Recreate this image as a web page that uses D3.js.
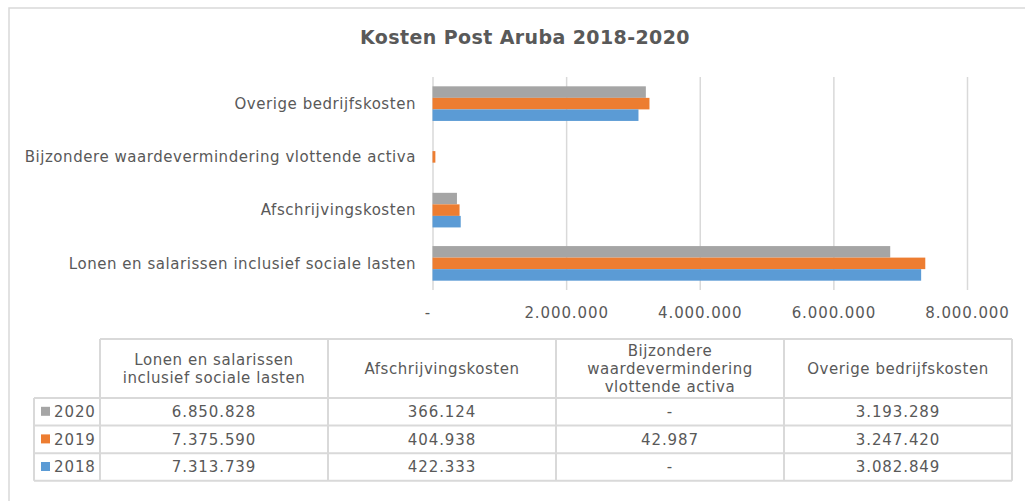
<!DOCTYPE html>
<html><head><meta charset="utf-8">
<script src="https://cdn.jsdelivr.net/npm/d3@7"></script>
<style>
html,body{margin:0;padding:0;background:#fff;}
svg text{font-family:"DejaVu Sans",Verdana,sans-serif;fill:#595959;}
.lbl{font-size:15px;letter-spacing:0.55px;}
.num{font-size:15px;letter-spacing:0.9px;}
</style></head>
<body><svg id="c" width="1025" height="501"></svg>
<script>
const title = "Kosten Post Aruba 2018-2020";
const categories = ["Lonen en salarissen inclusief sociale lasten","Afschrijvingskosten","Bijzondere waardevermindering vlottende activa","Overige bedrijfskosten"];
const headerLines = [["Lonen en salarissen","inclusief sociale lasten"],["Afschrijvingskosten"],["Bijzondere","waardevermindering","vlottende activa"],["Overige bedrijfskosten"]];
const years = ["2020","2019","2018"];
const values2020 = [6850828, 366124, 0, 3193289];
const values2019 = [7375590, 404938, 42987, 3247420];
const values2018 = [7313739, 422333, 0, 3082849];
const xTicks = [0, 2000000, 4000000, 6000000, 8000000];
const colors = {"2020":"#A5A5A5","2019":"#ED7D31","2018":"#5B9BD5"};
const seriesByYear = {"2020":values2020,"2019":values2019,"2018":values2018};

const loc = d3.formatLocale({decimal:",",thousands:".",grouping:[3],currency:["",""]});
const fmt = v => v === 0 ? "-" : loc.format(",.0f")(v);

const svg = d3.select("#c");
const grid = "#D9D9D9";

// outer frame
svg.append("rect").attr("x",9).attr("y",8).attr("width",1030).attr("height",510)
  .attr("fill","none").attr("stroke",grid).attr("stroke-width",1.5);

svg.append("text").attr("x",525).attr("y",44).attr("text-anchor","middle")
  .style("font-size","19px").style("font-weight","bold").style("letter-spacing","0.4px").text(title);

const x = d3.scaleLinear().domain([0,8000000]).range([432.5,967]);
const y = d3.scaleBand().domain([...categories].reverse()).range([77,290]).paddingInner(0.35).paddingOuter(0.175);
const ySub = d3.scaleBand().domain(years).range([0,y.bandwidth()]);

// gridlines + tick labels
const gAxis = svg.append("g").attr("transform","translate(0,290)")
  .call(d3.axisBottom(x).tickValues(xTicks).tickSize(-213).tickFormat(fmt));
gAxis.select(".domain").remove();
gAxis.selectAll(".tick line").attr("stroke",grid).attr("stroke-width",1.5);
gAxis.selectAll(".tick text").attr("dy",0).attr("y",28).attr("class","num").attr("fill","#595959")
  .attr("dx",d=>d===0?-5:0);

// bars
const groups = svg.append("g").selectAll("g").data(categories).join("g")
  .attr("transform",d=>`translate(0,${y(d)})`);
groups.selectAll("rect").data((d,i)=>years.map(yr=>({yr,v:seriesByYear[yr][i]}))).join("rect")
  .attr("x",x(0)).attr("y",d=>ySub(d.yr)).attr("height",ySub.bandwidth())
  .attr("width",d=>x(d.v)-x(0)).attr("fill",d=>colors[d.yr]);

// y labels
svg.append("g").selectAll("text").data(categories).join("text")
  .attr("class","lbl")
  .attr("x",416).attr("y",d=>y(d)+y.bandwidth()/2).attr("dy","0.35em").attr("text-anchor","end")
  .text(d=>d);

// data table
const colX = d3.scaleBand().domain(categories).range([100,1012]);
const rowTop = 398, rowH = 27.6, headTop = 339;
const rowY = d3.scaleBand().domain(years).range([rowTop, rowTop + rowH*3]);
const t = svg.append("g");
const line = (x1,y1,x2,y2)=>t.append("line").attr("x1",x1).attr("y1",y1).attr("x2",x2).attr("y2",y2)
  .attr("stroke",grid).attr("stroke-width",2);
const tableRight = colX.range()[1], tableBottom = rowY.range()[1];
line(100,headTop,tableRight,headTop);
line(34,rowTop,tableRight,rowTop);
years.forEach(yr=>line(34,rowY(yr)+rowH,tableRight,rowY(yr)+rowH));
line(34,rowTop,34,tableBottom);
categories.forEach(c=>line(colX(c),headTop,colX(c),tableBottom));
line(tableRight,headTop,tableRight,tableBottom);

// header text
categories.forEach((c,i)=>{
  const lines = headerLines[i];
  const cy = (headTop+rowTop)/2, lh = 18;
  lines.forEach((l,j)=>{
    t.append("text").attr("class","lbl").attr("x",colX(c)+colX.bandwidth()/2)
      .attr("y",cy + (j-(lines.length-1)/2)*lh).attr("dy","0.35em")
      .attr("text-anchor","middle").text(l);
  });
});
// rows
years.forEach(yr=>{
  const cy = rowY(yr)+rowH/2;
  t.append("rect").attr("x",41).attr("y",cy-5).attr("width",9).attr("height",9).attr("fill",colors[yr]);
  t.append("text").attr("class","num").attr("x",54).attr("y",cy).attr("dy","0.35em").text(yr);
  categories.forEach((c,i)=>{
    t.append("text").attr("class","num").attr("x",colX(c)+colX.bandwidth()/2).attr("y",cy).attr("dy","0.35em")
      .attr("text-anchor","middle").text(fmt(seriesByYear[yr][i]));
  });
});
</script></body></html>
